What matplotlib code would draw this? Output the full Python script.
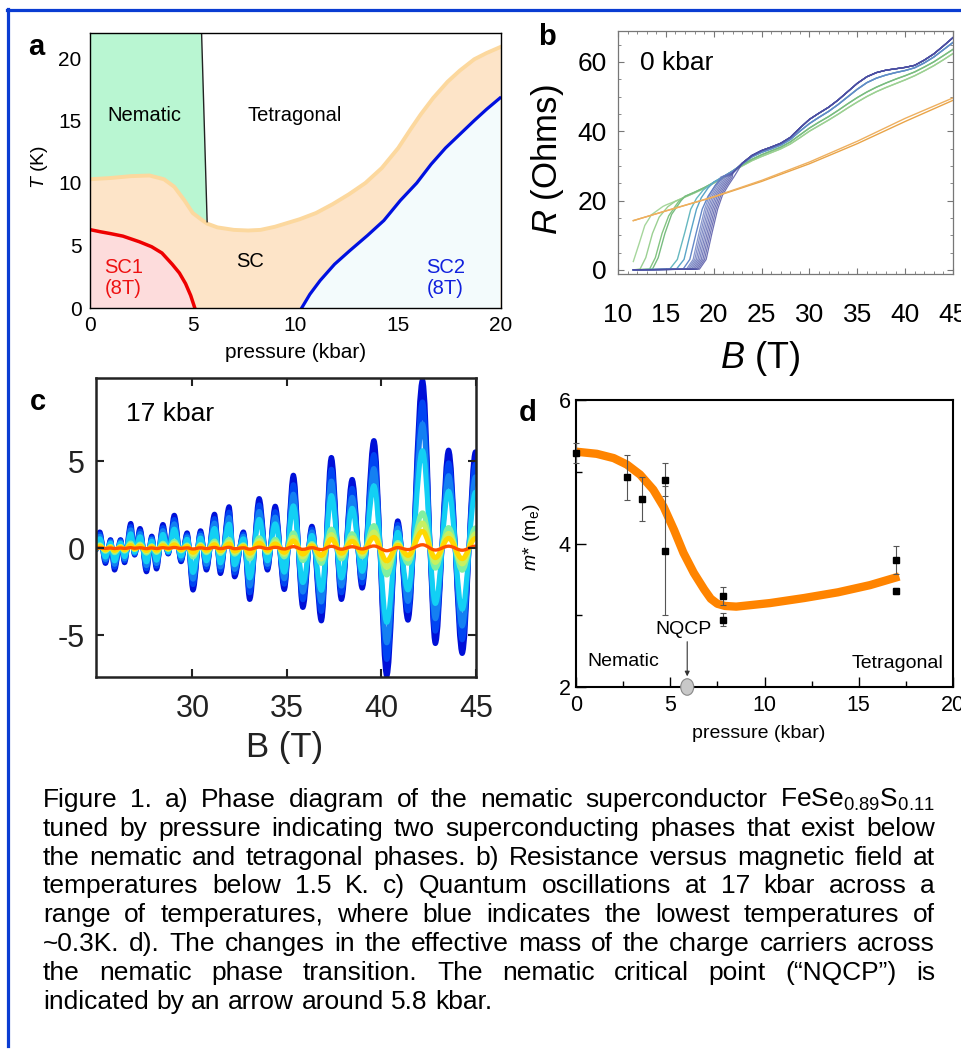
import matplotlib
matplotlib.use('Agg')
import matplotlib.pyplot as plt
from matplotlib.path import Path
from matplotlib.patches import PathPatch, Ellipse, Polygon
from matplotlib.lines import Line2D
from matplotlib.ticker import MultipleLocator

plt.rcParams['font.family'] = ['Liberation Sans', 'DejaVu Sans']
plt.rcParams['mathtext.fontset'] = 'custom'
plt.rcParams['mathtext.rm'] = 'Liberation Sans'
plt.rcParams['mathtext.it'] = 'Liberation Sans:italic'
plt.rcParams['axes.unicode_minus'] = False

W, H = 961, 1051

# ---------------- panel a : phase diagram ----------------
p_sc_top = [0, 1.0, 2.0, 2.9, 3.6, 4.1, 4.6, 5.0, 5.4, 5.7, 6.2, 7.0, 7.7, 8.3, 9.0,
            10.2, 11.0, 11.8, 12.6, 13.4, 14.2, 15.0, 15.6, 16.1, 16.7, 17.4, 18.0,
            18.7, 19.3, 20.0]
T_sc_top = [10.3, 10.4, 10.55, 10.6, 10.3, 9.7, 8.6, 7.6, 7.1, 6.75, 6.45, 6.25, 6.2,
            6.25, 6.5, 7.1, 7.6, 8.3, 9.1, 10.0, 11.2, 12.8, 14.3, 15.5, 16.8, 18.1,
            19.0, 19.9, 20.4, 20.9]
p_nem_line = [5.43, 5.7]
T_nem_line = [22.0, 6.9]
p_sc1 = [0, 0.5, 1.0, 1.6, 2.4, 3.0, 3.5, 4.0, 4.35, 4.65, 4.9, 5.1]
T_sc1 = [6.27, 6.1, 5.95, 5.75, 5.3, 4.9, 4.4, 3.5, 2.8, 1.95, 1.0, 0.0]
p_sc2 = [10.3, 10.7, 11.2, 11.9, 12.65, 13.5, 14.3, 15.1, 15.9, 16.6, 17.3, 18.0, 18.7,
         19.3, 19.95]
T_sc2 = [0.0, 1.1, 2.2, 3.5, 4.6, 5.8, 7.0, 8.6, 10.0, 11.5, 12.8, 13.9, 15.0, 15.9, 16.8]

# ---------------- panel b : R(B) at 0 kbar ----------------
B_orange = [11.6, 15, 20, 25, 30, 35, 40, 45]
R_orange1 = [14.2, 17.0, 21.0, 25.5, 30.6, 36.4, 42.8, 48.9]
R_orange2 = [14.2, 17.0, 21.1, 25.8, 31.1, 37.1, 43.7, 49.6]

B_br_green = list(range(15, 46))
R_br_lightgreen = [18.7, 19.8, 21.0, 22.2, 23.5, 25.0, 26.6, 28.5, 30.0, 31.5, 32.7, 33.8,
                   34.9, 36.3, 38.1, 40.0, 41.6, 43.2, 44.9, 46.7, 48.4, 50.0, 51.4, 52.6,
                   53.7, 54.8, 56.0, 57.4, 58.9, 60.6, 62.4]
R_br_green = [18.9, 20.0, 21.2, 22.4, 23.7, 25.2, 26.8, 28.6, 30.3, 31.9, 33.2, 34.3, 35.4,
              36.9, 38.9, 40.9, 42.6, 44.2, 46.0, 47.9, 49.7, 51.3, 52.7, 53.9, 55.0, 56.0,
              57.1, 58.5, 60.0, 61.8, 63.6]
B_br_teal = list(range(20, 46))
R_br_teal = [25.3, 26.9, 28.5, 30.6, 32.6, 33.9, 34.9, 36.0, 37.6, 40.0, 42.2, 44.0, 45.7,
             47.7, 49.9, 52.1, 54.0, 55.3, 56.2, 56.9, 57.5, 58.3, 59.7, 61.4, 63.5, 65.6]
B_br_purple = list(range(22, 46))
R_br_purple = [28.0, 30.8, 33.0, 34.4, 35.4, 36.5, 38.2, 40.9, 43.4, 45.2, 46.9, 49.0, 51.4,
               53.8, 55.7, 56.9, 57.6, 58.0, 58.4, 59.0, 60.5, 62.3, 64.6, 67.0]

# low-field transitions, one list per curve
trans_B_g1 = [11.6, 12.2, 12.8, 13.5, 14.7]
trans_R_g1 = [2.4, 7.5, 12.8, 15.9, 18.3]
trans_B_g2 = [11.6, 12.3, 12.9, 13.6, 14.3, 15.2]
trans_R_g2 = [0, 0.2, 3.5, 10.5, 15.2, 18.2]
trans_B_g3 = [11.6, 13.3, 13.9, 14.6, 15.3, 16.3]
trans_R_g3 = [0, 0.2, 3.5, 10.5, 15.6, 19.6]
trans_B_g4 = [11.6, 13.6, 14.2, 14.9, 15.6, 16.6]
trans_R_g4 = [0, 0.2, 3.5, 10.5, 16.0, 20.0]
trans_B_t1 = [11.6, 15.4, 16.2, 17.0, 17.6, 18.2, 18.9]
trans_R_t1 = [0, 0.2, 3.0, 11.0, 17.5, 20.6, 23.0]
trans_B_t2 = [11.6, 16.1, 16.9, 17.6, 18.2, 18.7, 19.4]
trans_R_t2 = [0, 0.2, 3.0, 11.0, 17.5, 20.8, 23.6]
trans_B_u1 = [11.6, 16.8, 17.5, 18.2, 18.8, 19.4, 20.2]
trans_R_u1 = [0, 0.2, 3.0, 11.0, 17.5, 21.2, 24.5]
# the dense purple group shares one transition shape, shifted by its onset field
purple_onsets = [17.15, 17.32, 17.49, 17.66, 17.83, 18.0, 18.17, 18.34, 18.51]
purple_dB = [0, 0.7, 1.3, 1.9, 2.4, 3.0, 3.6]
purple_R = [0.2, 3.0, 10.5, 17.5, 21.5, 24.3, 26.8]

# ---------------- panel c : oscillations at 17 kbar ----------------
B_peak = [25.1, 25.67, 26.2, 26.74, 27.23, 27.85, 28.44, 29.04, 29.72, 30.43, 31.17, 31.94,
          32.7, 33.53, 34.38, 35.34, 36.32, 37.35, 38.45, 39.6, 40.86, 42.17, 43.55, 44.97]
V_peak = [0.93, 0.49, 0.49, 1.42, 1.13, 0.69, 1.36, 1.89, 0.88, 1.0, 1.95, 2.38, 0.93, 2.85,
          2.41, 4.19, 1.26, 5.21, 3.95, 6.18, 1.57, 9.65, 5.63, 5.53]
B_trough = [24.9, 25.4, 25.88, 26.41, 26.94, 27.57, 28.1, 28.72, 29.4, 30.03, 30.74, 31.48,
            32.23, 33.03, 33.97, 34.86, 35.84, 36.82, 37.88, 38.98, 40.28, 41.4, 42.85, 44.27]
V_trough = [-0.1, -0.88, -1.26, -0.84, -0.4, -1.36, -1.2, -0.34, -0.78, -2.41, -1.26, -1.46,
            -1.65, -2.95, -1.26, -2.38, -3.41, -4.18, -2.95, -2.3, -7.35, -4.14, -5.48, -6.05]
# relative amplitude of each temperature, lowest T first
temp_scale = [1.0, 0.87, 0.74, 0.58, 0.21, 0.15, 0.1, 0.02]
temp_color = ['#0010d8', '#0044f2', '#1480f2', '#12d0f4', '#80f0a0', '#c8f060',
              '#ffd800', '#ff5000']

# ---------------- panel d : effective mass ----------------
p_pts = [0, 2.7, 3.5, 4.7, 4.7, 7.8, 7.8, 17.0, 17.0]
m_pts = [5.26, 4.92, 4.62, 4.89, 3.9, 3.27, 2.94, 3.77, 3.34]
m_err = [0.14, 0.32, 0.3, 0.23, 0.9, 0.13, 0.09, 0.19, 0.04]
p_fit = [0, 1.1, 2.0, 2.7, 3.4, 4.1, 4.65, 5.2, 5.7, 6.25, 6.8, 7.15, 7.5, 7.9, 8.5, 10.3,
         12.1, 13.9, 15.6, 17.15]
m_fit = [5.28, 5.25, 5.19, 5.10, 4.96, 4.75, 4.51, 4.19, 3.87, 3.59, 3.36, 3.23, 3.16,
         3.13, 3.12, 3.17, 3.24, 3.32, 3.42, 3.54]
p_nqcp = 5.9

caption = [
    "Figure 1. a) Phase diagram of the nematic superconductor FeSe$_{0.89}$S$_{0.11}$",
    "tuned by pressure indicating two superconducting phases that exist below",
    "the nematic and tetragonal phases. b) Resistance versus magnetic field at",
    "temperatures below 1.5 K. c) Quantum oscillations at 17 kbar across a",
    "range of temperatures, where blue indicates the lowest temperatures of",
    "~0.3K.  d). The changes in the effective mass of the charge carriers across",
    "the nematic phase transition. The nematic critical point (\u201cNQCP\u201d) is",
    "indicated by an arrow around 5.8 kbar.",
]


def box(x0, y0, x1, y1):
    return [x0 / W, 1 - y1 / H, (x1 - x0) / W, (y1 - y0) / H]


def fx(x):
    return x / W


def fy(y):
    return 1 - y / H


fig = plt.figure(figsize=(W / 100, H / 100), dpi=100)

# blue frame of the page
fig.add_artist(Line2D([fx(7.5), fx(7.5)], [fy(8.5), fy(1046)], color='#0a3cd2', lw=2.3))
fig.add_artist(Line2D([fx(6.5), fx(961)], [fy(9.8), fy(9.8)], color='#0a3cd2', lw=2.3))

# ---- a ----
ax1 = fig.add_axes(box(90, 33, 501, 308))
ax1.set_xlim(0, 20)
ax1.set_ylim(0, 22)
ax1.fill_between(p_sc_top, 0, T_sc_top, color='#fde4c8', lw=0, zorder=1)
nem = [(0, 22), (p_nem_line[0], T_nem_line[0]), (p_nem_line[1], T_nem_line[1])]
nem += [(p, t) for p, t in zip(p_sc_top[::-1], T_sc_top[::-1]) if p < p_nem_line[1]]
ax1.add_patch(Polygon(nem, closed=True, fc='#b9f6d2', ec='none', zorder=1))
ax1.plot(p_sc_top, T_sc_top, color='#fcd89e', lw=2.8, zorder=2)
ax1.plot(p_nem_line, T_nem_line, color='#222222', lw=1.0, zorder=3)
ax1.fill_between(p_sc1, 0, T_sc1, color='#fddcdc', lw=0, zorder=2)
ax1.plot(p_sc1, T_sc1, color='#ee0000', lw=2.5, zorder=4)
ax1.fill_between(p_sc2, 0, T_sc2, color='#f3fbfc', lw=0, zorder=2)
ax1.plot(p_sc2, T_sc2, color='#0010e0', lw=2.3, zorder=4)
ax1.text(2.63, 15.4, 'Nematic', fontsize=14.5, ha='center', va='center', zorder=5)
ax1.text(9.98, 15.4, 'Tetragonal', fontsize=14.5, ha='center', va='center', zorder=5)
ax1.text(7.79, 3.7, 'SC', fontsize=14.5, ha='center', va='center', zorder=5)
ax1.text(1.62, 2.4, 'SC1\n(8T)', fontsize=14.5, ha='center', va='center', color='#ee1111',
         linespacing=1.15, zorder=5)
ax1.text(17.3, 2.4, 'SC2\n(8T)', fontsize=14.5, ha='center', va='center', color='#1020dd',
         linespacing=1.15, zorder=5)
ax1.set_xticks([0, 5, 10, 15, 20])
ax1.set_yticks([0, 5, 10, 15, 20])
ax1.tick_params(length=0, labelsize=15, pad=6)
for s in ax1.spines.values():
    s.set_linewidth(1.0)
    s.set_zorder(6)
fig.text(fx(296), fy(352), 'pressure (kbar)', fontsize=15, ha='center', va='center')
fig.text(fx(40), fy(167), '$T$ (K)', fontsize=14, ha='center', va='center', rotation=90)
fig.text(fx(36), fy(47), 'a', fontsize=21, fontweight='bold', ha='center', va='center')

# ---- b ----
ax2 = fig.add_axes(box(618, 31, 953, 274))
ax2.set_xlim(10, 45)
ax2.set_ylim(-1.2, 68.9)


def build(tB, tR, bB, bR):
    last = tB[-1]
    xs = list(tB) + [b for b in bB if b > last]
    ys = list(tR) + [r for b, r in zip(bB, bR) if b > last]
    return xs, ys


for tB, tR, bR, col in [(trans_B_g1, trans_R_g1, R_br_lightgreen, '#a6d69c'),
                        (trans_B_g2, trans_R_g2, R_br_lightgreen, '#9bd092'),
                        (trans_B_g3, trans_R_g3, R_br_green, '#84c482'),
                        (trans_B_g4, trans_R_g4, R_br_green, '#78bc80')]:
    xs, ys = build(tB, tR, B_br_green, bR)
    ax2.plot(xs, ys, color=col, lw=1.0)
for tB, tR, col in [(trans_B_t1, trans_R_t1, '#66b8c0'),
                    (trans_B_t2, trans_R_t2, '#5aa4c8'),
                    (trans_B_u1, trans_R_u1, '#6488c8')]:
    xs, ys = build(tB, tR, B_br_teal, R_br_teal)
    ax2.plot(xs, ys, color=col, lw=1.0)
purple_cols = ['#6a7cc0', '#6676bc', '#6270b8', '#5e6ab4', '#5a64b0', '#565eac', '#5258a8',
               '#4e52a4', '#4a4ca0']
for ons, col in zip(purple_onsets, purple_cols):
    tB = [11.6] + [ons + d for d in purple_dB]
    tR = [0.0] + purple_R
    xs, ys = build(tB, tR, B_br_purple, R_br_purple)
    ax2.plot(xs, ys, color=col, lw=0.9, alpha=0.8)
ax2.plot(B_orange, R_orange1, color='#e9a448', lw=1.0)
ax2.plot(B_orange, R_orange2, color='#eeb060', lw=1.0)
ax2.xaxis.set_major_locator(MultipleLocator(5))
ax2.xaxis.set_minor_locator(MultipleLocator(1))
ax2.yaxis.set_major_locator(MultipleLocator(20))
ax2.yaxis.set_minor_locator(MultipleLocator(5))
ax2.set_yticks([0, 20, 40, 60])
ax2.tick_params(which='both', direction='in', top=True, right=True, color='#777777')
ax2.tick_params(which='major', length=4.5, width=0.8)
ax2.tick_params(which='minor', length=2.5, width=0.6)
ax2.tick_params(axis='x', labelsize=19, pad=21)
ax2.tick_params(axis='y', labelsize=19, pad=8)
for s in ax2.spines.values():
    s.set_color('#777777')
    s.set_linewidth(0.9)
ax2.text(0.065, 0.87, '0 kbar', transform=ax2.transAxes, fontsize=19, va='center')
fig.text(fx(760), fy(358), '$B$ (T)', fontsize=26, ha='center', va='center')
fig.text(fx(547), fy(160), '$R$ (Ohms)', fontsize=25, ha='center', va='center', rotation=90)
fig.text(fx(547), fy(37), 'b', fontsize=21, fontweight='bold', ha='center', va='center')

# ---- c ----
ax3 = fig.add_axes(box(96, 378, 476, 677))
ax3.set_xlim(24.9, 45)
ax3.set_ylim(-7.4, 9.77)
ext = sorted(list(zip(B_peak, V_peak)) + list(zip(B_trough, V_trough)))
B_ext = [e[0] for e in ext]
V_ext = [e[1] for e in ext]


def smooth_path(xs, ys, k=0.364):
    verts = [(xs[0], ys[0])]
    codes = [Path.MOVETO]
    for i in range(len(xs) - 1):
        dx = xs[i + 1] - xs[i]
        verts += [(xs[i] + k * dx, ys[i]), (xs[i + 1] - k * dx, ys[i + 1]),
                  (xs[i + 1], ys[i + 1])]
        codes += [Path.CURVE4] * 3
    return Path(verts, codes)


for sc, col in zip(temp_scale, temp_color):
    lw = 2.4 if sc < 0.05 else 3.6
    path = smooth_path(B_ext, [v * sc for v in V_ext])
    ax3.add_patch(PathPatch(path, fill=False, ec=col, lw=lw, capstyle='round',
                            joinstyle='round'))
ax3.set_xticks([30, 35, 40, 45])
ax3.set_yticks([-5, 0, 5])
ax3.tick_params(which='both', direction='in', top=True, right=True, length=6, width=1.5,
                color='#222222')
ax3.tick_params(axis='x', labelsize=22, pad=12, colors='#222222')
ax3.tick_params(axis='y', labelsize=22, pad=8, colors='#222222')
for s in ax3.spines.values():
    s.set_color('#222222')
    s.set_linewidth(1.8)
ax3.text(0.08, 0.878, '17 kbar', transform=ax3.transAxes, fontsize=19, va='center')
fig.text(fx(285), fy(748), 'B (T)', fontsize=25, ha='center', va='center', color='#222222')
fig.text(fx(38), fy(402), 'c', fontsize=21, fontweight='bold', ha='center', va='center')

# ---- d ----
ax4 = fig.add_axes(box(576, 400, 953, 687))
ax4.set_xlim(0, 20)
ax4.set_ylim(2, 6)
ax4.plot(p_fit, m_fit, color='#ff8400', lw=6, solid_capstyle='butt', zorder=2)
ax4.errorbar(p_pts, m_pts, yerr=m_err, fmt='s', ms=4.5, color='black', ecolor='#555555',
             elinewidth=0.8, capsize=2.5, capthick=0.8, zorder=3, clip_on=False)
ax4.add_patch(Ellipse((p_nqcp, 2.0), 0.69, 0.23, fc='#c8c8c8', ec='#888888', lw=0.8,
                      clip_on=False, zorder=5))
ax4.annotate('', xy=(p_nqcp, 2.11), xytext=(p_nqcp, 2.67),
             arrowprops=dict(arrowstyle='-|>', color='#333333', lw=0.8,
                             mutation_scale=7))
ax4.text(5.71, 2.8, 'NQCP', fontsize=14, ha='center', va='center')
ax4.text(0.58, 2.36, 'Nematic', fontsize=14, ha='left', va='center')
ax4.text(19.5, 2.33, 'Tetragonal', fontsize=14, ha='right', va='center')
ax4.xaxis.set_major_locator(MultipleLocator(5))
ax4.xaxis.set_minor_locator(MultipleLocator(2.5))
ax4.yaxis.set_major_locator(MultipleLocator(2))
ax4.yaxis.set_minor_locator(MultipleLocator(1))
ax4.tick_params(which='both', direction='in')
ax4.tick_params(which='major', length=7, width=1.0)
ax4.tick_params(which='minor', length=4, width=1.0)
ax4.tick_params(axis='x', labelsize=15.5, pad=6)
ax4.tick_params(axis='y', labelsize=15.5, pad=4)
for s in ax4.spines.values():
    s.set_linewidth(1.5)
fig.text(fx(759), fy(733), 'pressure (kbar)', fontsize=14, ha='center', va='center')
fig.text(fx(532), fy(537), '$m$* (m$_{\\rm e}$)', fontsize=14, ha='center', va='center',
         rotation=90)
fig.text(fx(528), fy(413), 'd', fontsize=21, fontweight='bold', ha='center', va='center')

# ---- caption, fully justified ----
renderer = fig.canvas.get_renderer()
x_left, x_right = 43, 935
base0, dline = 807, 28.8
cap_size = 19
sp = fig.text(0, 0, 'a a', fontsize=cap_size)
sp2 = fig.text(0, 0, 'aa', fontsize=cap_size)
space_w = (sp.get_window_extent(renderer).width - sp2.get_window_extent(renderer).width)
sp.remove()
sp2.remove()
for i, line in enumerate(caption):
    words = line.split()
    ts = [fig.text(0, fy(base0 + i * dline), w, fontsize=cap_size, va='baseline')
          for w in words]
    widths = [t.get_window_extent(renderer).width for t in ts]
    last = (i == len(caption) - 1)
    gap = space_w if last else (x_right - x_left - sum(widths)) / (len(words) - 1)
    x = x_left
    for t, w in zip(ts, widths):
        t.set_x(fx(x))
        x += w + gap

fig.savefig('out.png', dpi=100)
